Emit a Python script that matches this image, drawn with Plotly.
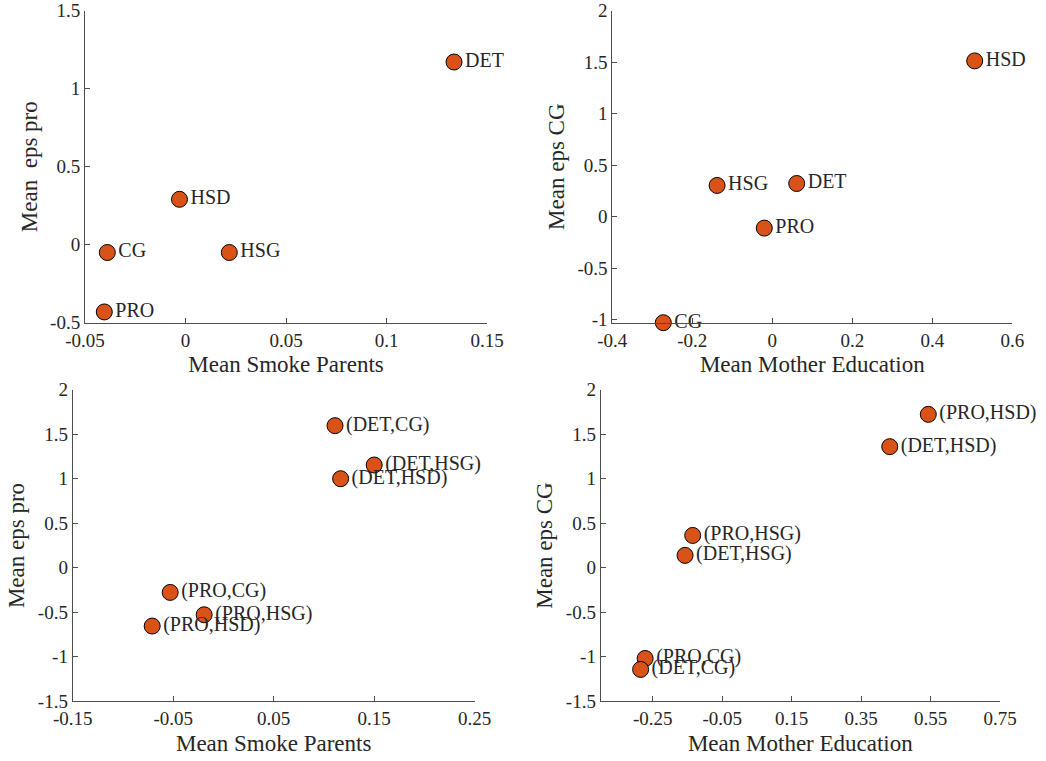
import plotly.graph_objects as go

# ---------------- data ----------------
labels_tl = ["DET", "HSD", "CG", "HSG", "PRO"]
smoke_tl = [0.1336, -0.003, -0.0389, 0.0218, -0.0404]
epspro_tl = [1.171, 0.291, -0.050, -0.050, -0.431]

labels_tr = ["HSD", "HSG", "DET", "PRO", "CG"]
mothered_tr = [0.506, -0.138, 0.061, -0.020, -0.2725]
epscg_tr = [1.513, 0.304, 0.323, -0.110, -1.028]

labels_bl = ["(DET,CG)", "(DET,HSG)", "(DET,HSD)", "(PRO,CG)", "(PRO,HSG)", "(PRO,HSD)"]
smoke_bl = [0.111, 0.150, 0.1166, -0.053, -0.0192, -0.0709]
epspro_bl = [1.596, 1.154, 1.000, -0.277, -0.528, -0.655]

labels_br = ["(PRO,HSD)", "(DET,HSD)", "(PRO,HSG)", "(DET,HSG)", "(PRO,CG)", "(DET,CG)"]
mothered_br = [0.5435, 0.4325, -0.135, -0.157, -0.272, -0.285]
epscg_br = [1.723, 1.360, 0.363, 0.139, -1.019, -1.142]

# tick values / labels
xt_tl = [-0.05, 0, 0.05, 0.1, 0.15]
xl_tl = ["-0.05", "0", "0.05", "0.1", "0.15"]
yt_tl = [-0.5, 0, 0.5, 1, 1.5]
yl_tl = ["-0.5", "0", "0.5", "1", "1.5"]

xt_tr = [-0.4, -0.2, 0, 0.2, 0.4, 0.6]
xl_tr = ["-0.4", "-0.2", "0", "0.2", "0.4", "0.6"]
yt_tr = [-1, -0.5, 0, 0.5, 1, 1.5, 2]
yl_tr = ["-1", "-0.5", "0", "0.5", "1", "1.5", "2"]

xt_bl = [-0.15, -0.05, 0.05, 0.15, 0.25]
xl_bl = ["-0.15", "-0.05", "0.05", "0.15", "0.25"]
yt_bl = [-1.5, -1, -0.5, 0, 0.5, 1, 1.5, 2]
yl_bl = ["-1.5", "-1", "-0.5", "0", "0.5", "1", "1.5", "2"]

xt_br = [-0.25, -0.05, 0.15, 0.35, 0.55, 0.75]
xl_br = ["-0.25", "-0.05", "0.15", "0.35", "0.55", "0.75"]
yt_br = yt_bl
yl_br = yl_bl

# ---------------- style ----------------
FONT = "Liberation Serif"
TXT = "#262626"
AXC = "#4d4d4d"
FILL = "#D95319"

fig = go.Figure()

panels = [
    ("x", "y", smoke_tl, epspro_tl, labels_tl),
    ("x2", "y2", mothered_tr, epscg_tr, labels_tr),
    ("x3", "y3", smoke_bl, epspro_bl, labels_bl),
    ("x4", "y4", mothered_br, epscg_br, labels_br),
]
for xa, ya, xs, ys, ls in panels:
    fig.add_trace(go.Scatter(
        x=xs, y=ys, text=ls, mode="markers+text", textposition="middle right",
        xaxis=xa, yaxis=ya, cliponaxis=False,
        marker=dict(size=16, color=FILL, line=dict(color="black", width=1)),
        textfont=dict(family=FONT, size=20, color=TXT),
        showlegend=False, hoverinfo="skip",
    ))


def axis(domain, rng, tv, tt, title, anchor):
    return dict(
        domain=domain, range=rng, tickvals=tv, ticktext=tt, anchor=anchor,
        showgrid=False, zeroline=False, showline=True, linecolor=AXC, linewidth=1,
        ticks="inside", ticklen=5, tickcolor=AXC, mirror=False,
        tickfont=dict(family=FONT, size=19, color=TXT),
        title=dict(text=title, font=dict(family=FONT, size=23, color=TXT), standoff=6),
        automargin=False,
    )


W, H = 1046, 761
dy_top = [1 - 322.7 / H, 1 - 10.7 / H]
dy_bot = [1 - 701.3 / H, 1 - 389.7 / H]

fig.update_layout(
    width=W, height=H, margin=dict(l=0, r=0, t=0, b=0),
    paper_bgcolor="white", plot_bgcolor="white",
    xaxis=axis([85 / W, 487 / W], [-0.05, 0.15], xt_tl, xl_tl, "Mean Smoke Parents", "y"),
    yaxis=axis(dy_top, [-0.5, 1.5], yt_tl, yl_tl, "Mean\u00a0 eps pro", "x"),
    xaxis2=axis([612.3 / W, 1012.3 / W], [-0.4, 0.6], xt_tr, xl_tr, "Mean Mother Education", "y2"),
    yaxis2=axis(dy_top, [-1.028, 2], yt_tr, yl_tr, "Mean eps CG", "x2"),
    xaxis3=axis([72.7 / W, 474.7 / W], [-0.15, 0.25], xt_bl, xl_bl, "Mean Smoke Parents", "y3"),
    yaxis3=axis(dy_bot, [-1.5, 2], yt_bl, yl_bl, "Mean eps pro", "x3"),
    xaxis4=axis([600.7 / W, 1000 / W], [-0.4, 0.75], xt_br, xl_br, "Mean Mother Education", "y4"),
    yaxis4=axis(dy_bot, [-1.5, 2], yt_br, yl_br, "Mean eps CG", "x4"),
)

fig.write_html("out.html")
